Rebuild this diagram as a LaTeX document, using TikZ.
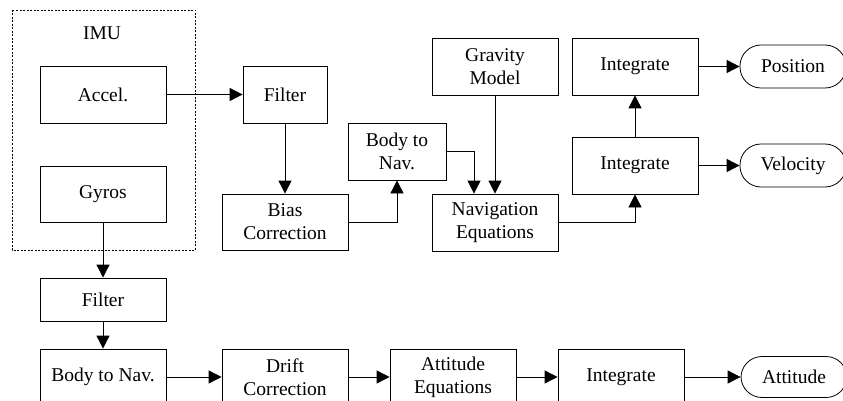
\documentclass[tikz,border=0pt]{standalone}
\usepackage{fontspec}
\setmainfont{Liberation Serif}
\usetikzlibrary{arrows.meta,positioning,calc}
\begin{document}
\begin{tikzpicture}[x=1pt,y=-1pt,
  every node/.style={font=\fontsize{19.5}{23}\selectfont},
  blk/.style={draw, line width=0.8pt, rectangle, minimum width=126pt, minimum height=57pt, inner sep=0pt, align=center},
  term/.style={draw, line width=0.8pt, rectangle, rounded corners=21pt, minimum width=106pt, minimum height=43pt, inner sep=0pt, align=center},
  conn/.style={draw, line width=0.8pt, -{Triangle[length=13pt,width=13pt]}},
  imubox/.style={draw, line width=0.7pt, dash pattern=on 2pt off 1.5pt}]
\useasboundingbox (0,0) rectangle (843,401);
\clip (0,0) rectangle (843,401);
% IMU group
\draw[imubox] (12,10) rectangle (195,250);
\node (imu) at (102,33) {IMU};
\node[blk] (accel) at (103,94.5) {Accel.};
\node[blk, minimum height=56pt] (gyros) at (103,194) {Gyros};
% top chain
\node[blk, minimum width=84pt] (filt1) at (285,94.5) {Filter};
\node[blk, minimum height=56pt] (bias) at (285,222) {Bias\\Correction};
\node[blk, minimum width=98pt] (b2n1) at (397,151.5) {Body to\\Nav.};
\node[blk] (grav) at (495,66.5) {Gravity\\Model};
\node[blk] (naveq) at (495,222.5) {Navigation\\Equations};
\node[blk] (int2) at (635,66.5) {Integrate};
\node[blk] (int1) at (635,165.5) {Integrate};
\node[term] (pos) at (793,66.5) {Position};
\node[term] (vel) at (793,165.5) {Velocity};
% bottom chain
\node[blk, minimum height=43pt] (filt2) at (103,299.5) {Filter};
\node[blk, minimum height=56pt] (b2n2) at (103,377) {Body to Nav.};
\node[blk, minimum height=56pt] (drift) at (285,377) {Drift\\Correction};
\node[blk, minimum height=56pt] (atteq) at (453,377) {Attitude\\Equations};
\node[blk, minimum height=56pt] (int3) at (621,377) {Integrate};
\node[term, minimum height=41pt] (att) at (794,377) {Attitude};
% connectors
\draw[conn] (accel.east) -- (filt1.west);
\draw[conn] (filt1.south) -- (bias.north);
\draw[conn] (bias.east) -| (b2n1.south);
\draw[conn] (b2n1.east) -| ([xshift=-21pt]naveq.north);
\draw[conn] (grav.south) -- (naveq.north);
\draw[conn] (naveq.east) -| (int1.south);
\draw[conn] (int1.north) -- (int2.south);
\draw[conn] (int2.east) -- (pos.west);
\draw[conn] (int1.east) -- (vel.west);
\draw[conn] (gyros.south) -- (filt2.north);
\draw[conn] (filt2.south) -- (b2n2.north);
\draw[conn] (b2n2.east) -- (drift.west);
\draw[conn] (drift.east) -- (atteq.west);
\draw[conn] (atteq.east) -- (int3.west);
\draw[conn] (int3.east) -- (att.west);
\end{tikzpicture}
\end{document}
